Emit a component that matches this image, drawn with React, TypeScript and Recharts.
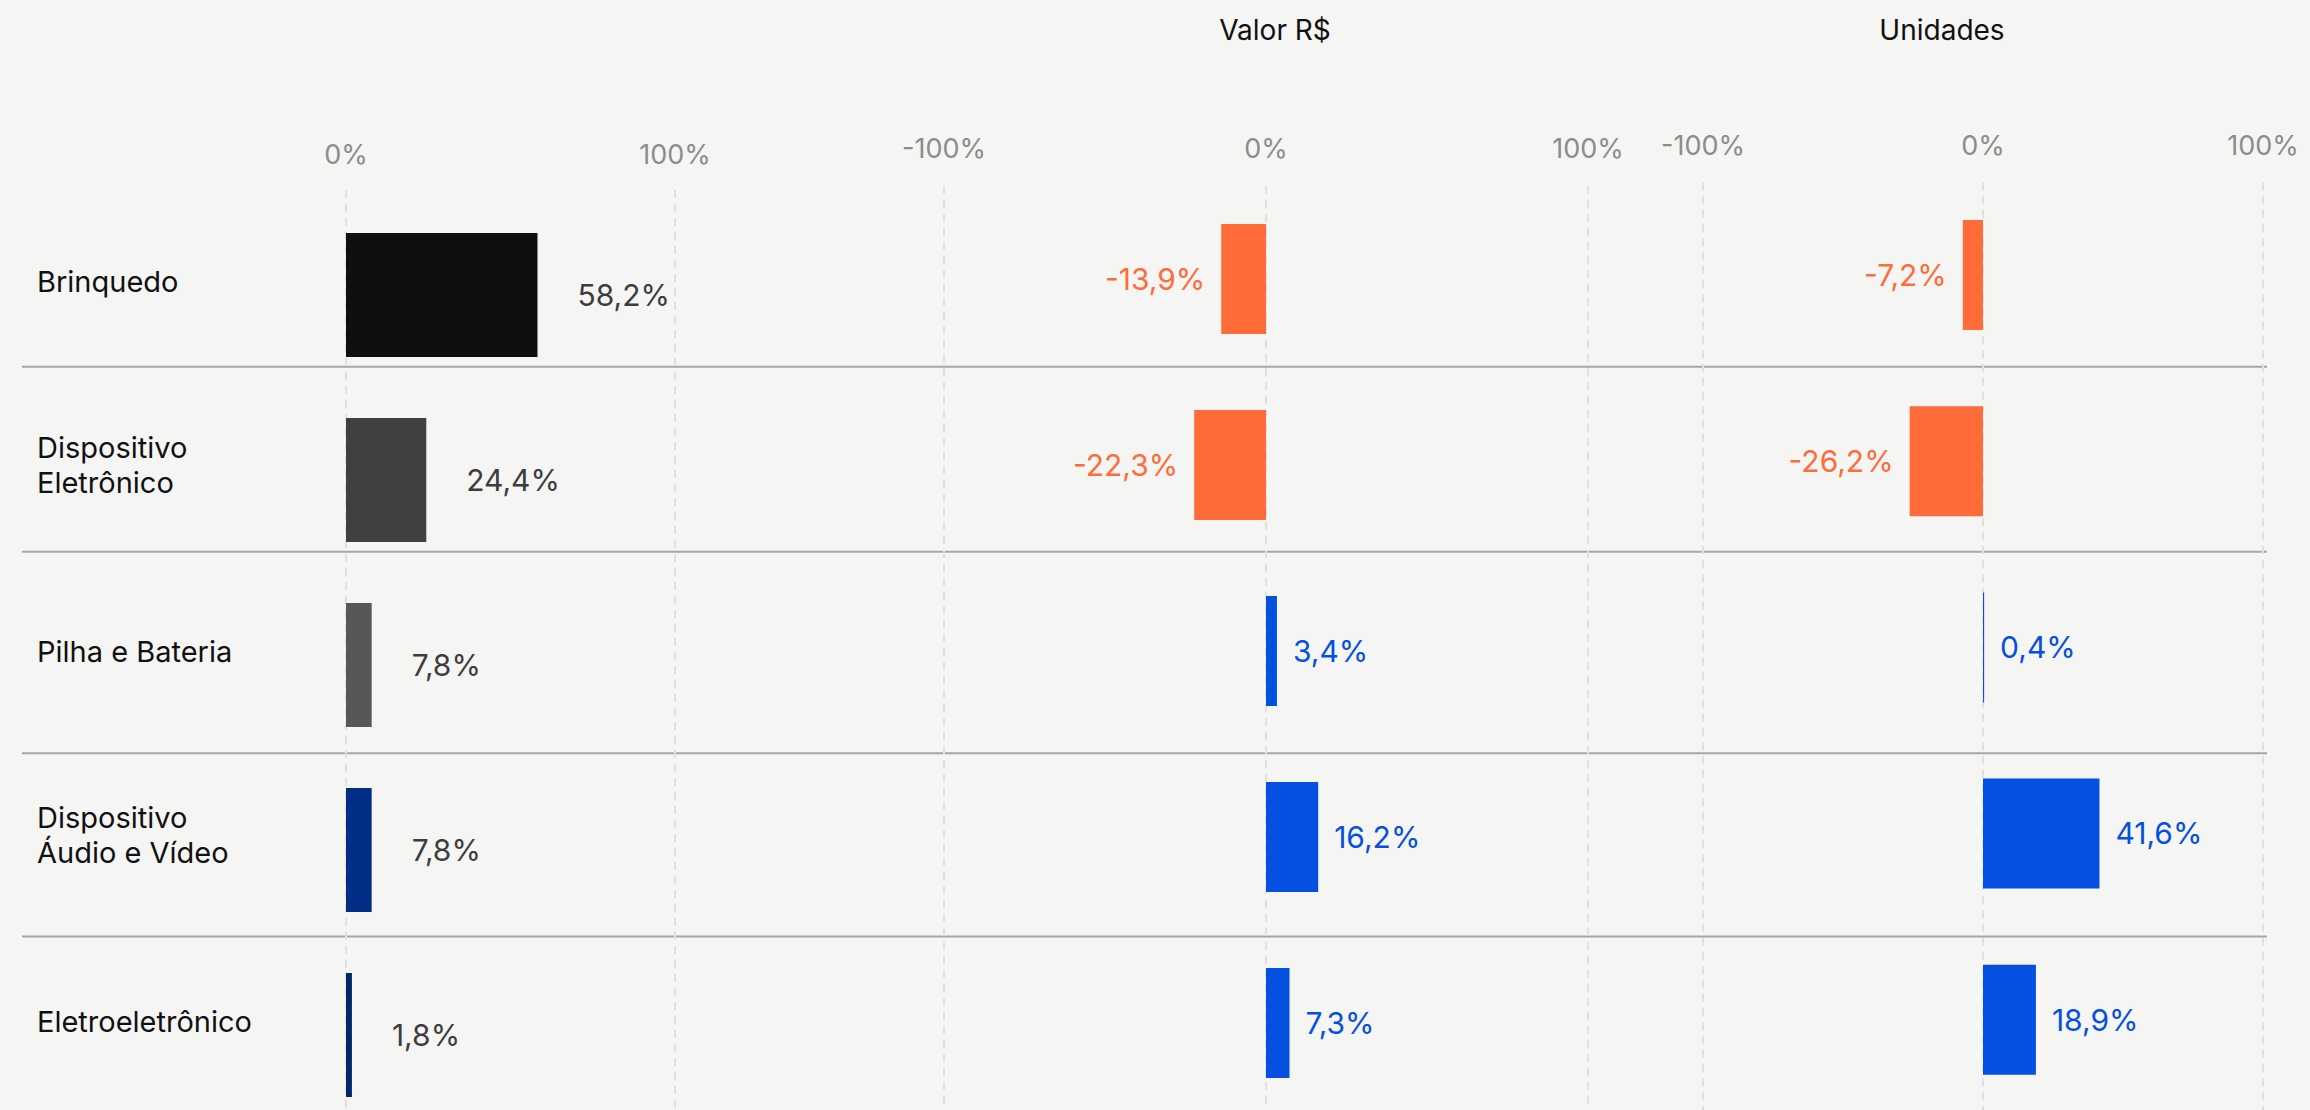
import { BarChart, Bar, LineChart, Line, XAxis, YAxis, CartesianGrid, Cell, LabelList, ReferenceLine } from "recharts";

// Category rows and values
const categories = ["Brinquedo", "Dispositivo Eletrônico", "Pilha e Bateria", "Dispositivo Áudio e Vídeo", "Eletroeletrônico"];
const categoryLines = [["Brinquedo"], ["Dispositivo", "Eletrônico"], ["Pilha e Bateria"], ["Dispositivo", "Áudio e Vídeo"], ["Eletroeletrônico"]];
const share = [58.2, 24.4, 7.8, 7.8, 1.8];
const valorChange = [-13.9, -22.3, 3.4, 16.2, 7.3];
const unidadesChange = [-7.2, -26.2, 0.4, 41.6, 18.9];
const shareColors = ["#0f0f0f", "#404040", "#575757", "#032e85", "#022868"];
const shareTicks = [0, 100];
const changeTicks = [-100, 0, 100];
const panelTitles = ["Valor R$", "Unidades"];
// row separators, in row units (0 = top of first row)
const rowBreaks = [0.89, 1.89, 2.98, 3.97];

const ORANGE = "#ff6c3a";
const BLUE = "#0550e0";
const FONT = "Inter, 'Noto Sans', sans-serif";
const W = 2310;

const rows = categories.map((name, i) => ({
  name,
  row: i + 0.5,
  share: share[i],
  valor: valorChange[i],
  unidades: unidadesChange[i],
}));

const fmt = (v: number) => `${v.toFixed(1).replace(".", ",")}%`;

const CategoryTick = (props: any) => {
  const { y, payload } = props;
  const idx = categories.indexOf(payload.value);
  const lines = categoryLines[idx] ?? [payload.value];
  const first = lines.length > 1 ? y - 22 : y - 2.5;
  return (
    <text x={37} y={first} fill="#111" fontSize={29} fontFamily={FONT} textAnchor="start">
      {lines.map((l, k) => (
        <tspan key={k} x={37} dy={k === 0 ? 0 : 35}>
          {l}
        </tspan>
      ))}
    </text>
  );
};

const changeLabel = (values: number[]) => (props: any) => {
  const vb = props.viewBox && props.viewBox.width !== undefined ? props.viewBox : props;
  const x = Number(vb.x);
  const w = Number(vb.width);
  const y = Number(vb.y);
  const h = Number(vb.height);
  const v = values[props.index] ?? Number(props.value);
  const pos = v >= 0;
  const right = Math.max(x, x + w);
  const left = Math.min(x, x + w);
  return (
    <text
      x={pos ? right + 16 : left - 16}
      y={y + h / 2}
      dy="0.36em"
      textAnchor={pos ? "start" : "end"}
      fill={pos ? BLUE : ORANGE}
      fontSize={30}
      fontFamily={FONT}
    >
      {fmt(v)}
    </text>
  );
};

const layer: React.CSSProperties = { position: "absolute", left: 0, top: 0 };

const ChangePanel = ({ dataKey, values, left, right, top, height, tickMargin }: any) => (
  <div style={layer}>
    <BarChart
      width={W}
      height={height}
      data={rows}
      layout="vertical"
      margin={{ top: top - 40, right: W - right, bottom: 0, left }}
    >
      <CartesianGrid horizontal={false} stroke="#e0e0e0" strokeWidth={2} strokeDasharray="8 6" />
      <XAxis
        type="number"
        orientation="top"
        domain={[-100, 100]}
        ticks={changeTicks}
        interval={0}
        height={40}
        axisLine={false}
        tickLine={false}
        tickSize={0}
        tickMargin={tickMargin}
        tickFormatter={(v) => `${v}%`}
        tick={{ fill: "#8c8c8c", fontSize: 27, fontFamily: FONT }}
      />
      <YAxis type="category" dataKey="name" hide />
      <Bar dataKey={dataKey} barSize={110} isAnimationActive={false}>
        {values.map((v: number, i: number) => (
          <Cell key={i} fill={v >= 0 ? BLUE : ORANGE} />
        ))}
        <LabelList dataKey={dataKey} content={changeLabel(values)} />
      </Bar>
    </BarChart>
  </div>
);

export default function App() {
  return (
    <div style={{ position: "relative", width: W, height: 1110, overflow: "hidden", background: "#f5f5f3", fontFamily: FONT }}>
      <style>{"html,body{margin:0;padding:0;background:#f5f5f3;overflow:hidden}"}</style>

      {/* row separators across all panels */}
      <div style={layer}>
        <LineChart width={W} height={1127} data={rows} margin={{ top: 202, right: 43, bottom: 0, left: 22 }}>
          <XAxis type="category" dataKey="name" hide />
          <YAxis type="number" domain={[0, 5]} reversed hide allowDataOverflow />
          <Line dataKey="row" stroke="transparent" dot={false} activeDot={false} isAnimationActive={false} />
          {rowBreaks.map((b) => (
            <ReferenceLine key={b} y={b} stroke="#a6a6a6" strokeWidth={2} />
          ))}
        </LineChart>
      </div>

      {/* share panel */}
      <div style={layer}>
        <BarChart width={W} height={1127} data={rows} layout="vertical" margin={{ top: 150, right: W - 675, bottom: 0, left: 0 }}>
          <CartesianGrid horizontal={false} stroke="#e0e0e0" strokeWidth={2} strokeDasharray="8 6" />
          <XAxis
            type="number"
            orientation="top"
            domain={[0, 100]}
            ticks={shareTicks}
            interval={0}
            height={40}
            axisLine={false}
            tickLine={false}
            tickSize={0}
            tickMargin={26}
            tickFormatter={(v) => `${v}%`}
            tick={{ fill: "#8c8c8c", fontSize: 27, fontFamily: FONT }}
          />
          <YAxis
            type="category"
            dataKey="name"
            width={346}
            axisLine={false}
            tickLine={false}
            padding={{ top: 12, bottom: 0 }}
            tick={<CategoryTick />}
            interval={0}
          />
          <Bar dataKey="share" barSize={124} isAnimationActive={false}>
            {share.map((_, i) => (
              <Cell key={i} fill={shareColors[i]} />
            ))}
            <LabelList
              dataKey="share"
              position="right"
              offset={40}
              formatter={(v: any) => fmt(Number(v))}
              fill="#3d3d3d"
              fontSize={30}
              fontFamily={FONT}
            />
          </Bar>
        </BarChart>
      </div>

      <ChangePanel dataKey="valor" values={valorChange} left={944} right={1588} top={186} height={1116} tickMargin={28} />
      <ChangePanel dataKey="unidades" values={unidadesChange} left={1703} right={2263} top={182} height={1113} tickMargin={27} />

      <div style={{ position: "absolute", top: 16, left: 1275, transform: "translateX(-50%)", fontSize: 28, lineHeight: "28px", color: "#111", whiteSpace: "nowrap" }}>
        {panelTitles[0]}
      </div>
      <div style={{ position: "absolute", top: 16, left: 1942, transform: "translateX(-50%)", fontSize: 28, lineHeight: "28px", color: "#111", whiteSpace: "nowrap" }}>
        {panelTitles[1]}
      </div>
    </div>
  );
}
